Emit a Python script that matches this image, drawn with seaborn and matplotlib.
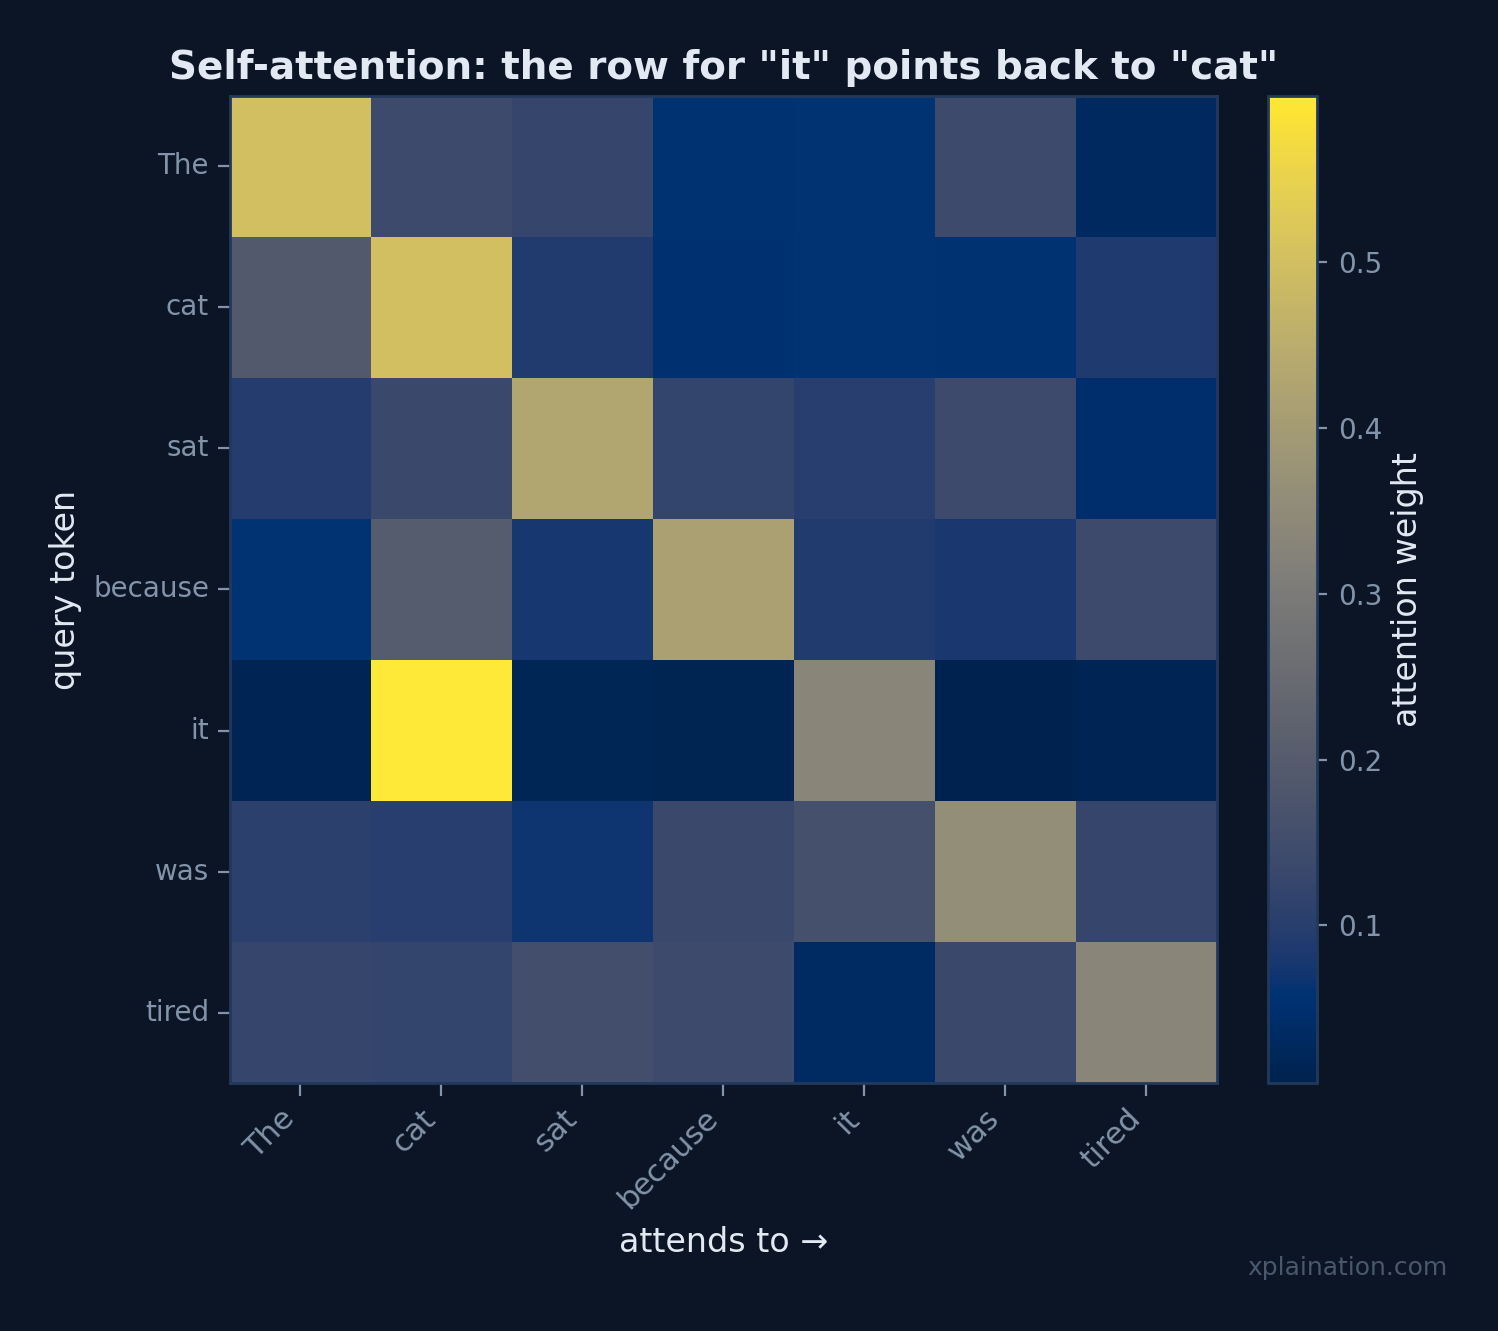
import numpy as np
import pandas as pd
import matplotlib
matplotlib.use("Agg")
import matplotlib.pyplot as plt
import seaborn as sns

tokens = ["The", "cat", "sat", "because", "it", "was", "tired"]

# attention weights, one row per query token
row_the = [0.50, 0.14, 0.125, 0.055, 0.06, 0.14, 0.03]
row_cat = [0.19, 0.50, 0.09, 0.05, 0.06, 0.058, 0.085]
row_sat = [0.095, 0.135, 0.43, 0.12, 0.10, 0.14, 0.045]
row_because = [0.06, 0.20, 0.075, 0.415, 0.09, 0.08, 0.14]
row_it = [0.015, 0.60, 0.018, 0.012, 0.335, 0.005, 0.016]
row_was = [0.105, 0.10, 0.07, 0.135, 0.16, 0.36, 0.125]
row_tired = [0.125, 0.12, 0.155, 0.14, 0.035, 0.135, 0.335]

weights = pd.DataFrame(
    [row_the, row_cat, row_sat, row_because, row_it, row_was, row_tired],
    index=tokens, columns=tokens,
)

bg = "#0b1526"
tick_col = "#8394aa"
text_col = "#e3e9f3"
edge_col = "#22395c"

plt.rcParams["font.family"] = ["DejaVu Sans"]

fig = plt.figure(figsize=(7.49, 6.655), dpi=200, facecolor=bg)
ax = fig.add_axes([0.1535, 0.1863, 0.6589, 0.7416])
cax = fig.add_axes([0.8465, 0.1863, 0.0327, 0.7416])
ax.set_facecolor(bg)

sns.heatmap(weights, ax=ax, cbar_ax=cax, cmap="cividis",
            cbar_kws={"label": "attention weight"})

for s in ax.spines.values():
    s.set_visible(True)
    s.set_color(edge_col)
    s.set_linewidth(1)

ax.set_title('Self-attention: the row for "it" points back to "cat"',
             fontsize=14, fontweight="bold", color=text_col, pad=6)
ax.set_xlabel("attends to →", fontsize=12, color=text_col, labelpad=4)
ax.set_ylabel("query token", fontsize=12, color=text_col, labelpad=4)
ax.set_xticklabels(tokens, rotation=45, ha="right")
ax.set_yticklabels(tokens, rotation=0, va="center")
ax.tick_params(colors=tick_col, length=4.5, pad=3)
ax.tick_params(axis="x", labelsize=11)
ax.tick_params(axis="y", labelsize=10)

cax.tick_params(colors=tick_col, labelsize=10, length=3.5, pad=4)
cax.yaxis.label.set_color(text_col)
cax.yaxis.label.set_size(12)
cax.yaxis.labelpad = 3
cax.set_yticks([0.1, 0.2, 0.3, 0.4, 0.5])
cbar = ax.collections[0].colorbar
cbar.outline.set_edgecolor(edge_col)
cbar.outline.set_linewidth(1)

fig.text(0.966, 0.047, "xplaination.com", fontsize=9, color="#4a586c",
         ha="right", va="center")

fig.savefig("out.png", dpi=200, facecolor=bg)
